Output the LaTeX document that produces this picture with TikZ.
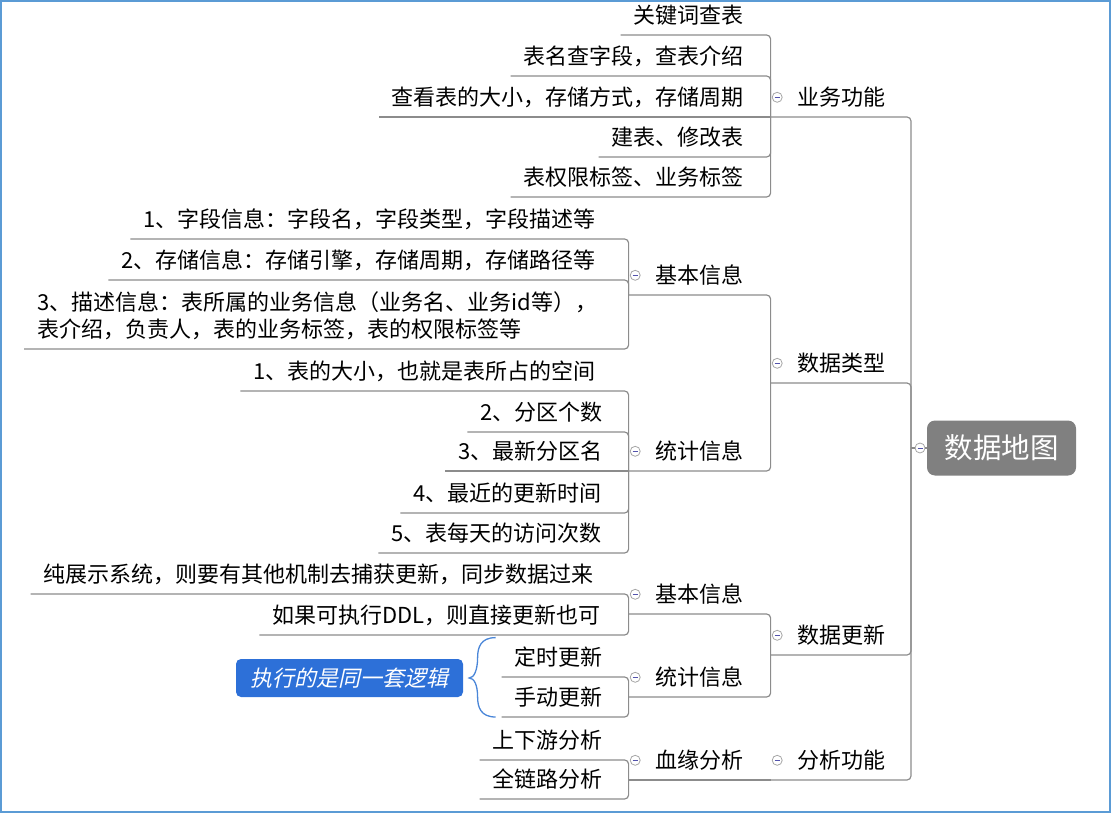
\documentclass[tikz,border=0pt]{standalone}
\usepackage{fontspec}
\newfontfamily\cjk{Noto Sans CJK SC}
\newfontfamily\cjkit[FakeSlant=0.22]{Noto Sans CJK SC}
\usetikzlibrary{positioning}
\definecolor{linegray}{RGB}{140,140,140}
\definecolor{rootgray}{RGB}{128,128,128}
\definecolor{noteblue}{RGB}{45,112,216}
\definecolor{braceblue}{RGB}{74,134,216}
\definecolor{frameblue}{RGB}{91,155,213}
\tikzset{x=1pt, y=-1pt, node distance=2pt,
  topic/.style={font=\cjk\fontsize{22}{27}\selectfont, text height=19pt, text depth=3pt,
    inner xsep=13pt, inner ysep=8.5pt, anchor=south east},
  root/.style={font=\cjk\fontsize{28.5}{34}\selectfont, fill=rootgray, text=white,
    rounded corners=8pt, minimum width=149pt, minimum height=55pt},
  note/.style={font=\cjkit\fontsize{22}{27}\selectfont, fill=noteblue, text=white,
    rounded corners=5pt, minimum width=227pt, minimum height=38pt},
  fold/.style={circle, draw=gray!70, fill=white, line width=0.8pt, minimum size=10pt, inner sep=0pt,
    path picture={\draw[blue!35!gray, line width=0.8pt]
      ([xshift=-2.5pt]path picture bounding box.center) -- ([xshift=2.5pt]path picture bounding box.center);}},
  link/.style={draw=linegray, line width=1.2pt, rounded corners=4pt},
  sumline/.style={draw=braceblue, line width=1.3pt}}

\begin{document}
\begin{tikzpicture}
  \useasboundingbox (0,0) rectangle (1111,813);
  \draw[frameblue, line width=1.5pt] (1,1) rectangle (1110,812);

  \node[root] (R) at (1001.5,448) {数据地图};
  \node[fold] (fR) at (920,448) {};
  \coordinate (jR) at (911,448);

  \node[topic] (A) at (899,117) {业务功能};
  \node[topic] (B) at (899,383) {数据类型};
  \node[topic] (C) at (899,655) {数据更新};
  \node[topic] (D) at (899,780) {分析功能};

  \node[topic] (A1) at (757,35) {关键词查表};
  \node[topic] (A2) at (757,76) {表名查字段，查表介绍};
  \node[topic] (A3) at (757,117) {查看表的大小，存储方式，存储周期};
  \node[topic] (A4) at (757,157) {建表、修改表};
  \node[topic] (A5) at (757,197) {表权限标签、业务标签};
  \node[topic] (B1) at (757,295) {基本信息};
  \node[topic] (B2) at (757,471) {统计信息};
  \node[topic] (C1) at (757,614) {基本信息};
  \node[topic] (C2) at (757,697) {统计信息};
  \node[topic] (D1) at (757,780) {血缘分析};

  \node[topic] (B11) at (609,239) {1、字段信息：字段名，字段类型，字段描述等};
  \node[topic] (B12) at (609,280) {2、存储信息：存储引擎，存储周期，存储路径等};
  \node[topic, anchor=south west, align=left, text height=46pt, text depth=3pt] (B13) at (24,349)
    {3、描述信息：表所属的业务信息（业务名、业务id等），\\表介绍，负责人，表的业务标签，表的权限标签等};
  \node[topic] (B21) at (609,391) {1、表的大小，也就是表所占的空间};
  \node[topic] (B22) at (616,432) {2、分区个数};
  \node[topic] (B23) at (616,471) {3、最新分区名};
  \node[topic] (B24) at (615,513) {4、最近的更新时间};
  \node[topic] (B25) at (615,553) {5、表每天的访问次数};
  \node[topic] (C11) at (607,594) {纯展示系统，则要有其他机制去捕获更新，同步数据过来};
  \node[topic] (C12) at (614,635) {如果可执行DDL，则直接更新也可};
  \node[topic] (C21) at (616,677) {定时更新};
  \node[topic] (C22) at (616,717) {手动更新};
  \node[topic] (D11) at (616,760) {上下游分析};
  \node[topic] (D12) at (616,799) {全链路分析};

  \node[note] (N) at (349.5,678) {执行的是同一套逻辑};

  \foreach \n in {A,B,C,D,B1,B2,C1,C2,D1} {
    \node[fold] (f\n) [left=of \n] {};
    \coordinate (j\n) at ([xshift=-14pt]\n.south west);
  }

  \draw[link] (jR) -- (fR);
  \draw[link] (fR) -- (R);
  \foreach \n in {A,B,C,D} \draw[link] (jR) |- (j\n);
  \foreach \n in {A1,A2,A4,A5} \draw[link] (jA) |- (\n.south west);
  \draw[link] (jA) -- (A3.south west);
  \foreach \n in {B1,B2} \draw[link] (jB) |- (j\n);
  \foreach \n in {B11,B12,B13} \draw[link] (jB1) |- (\n.south west);
  \foreach \n in {B21,B22,B24,B25} \draw[link] (jB2) |- (\n.south west);
  \draw[link] (jB2) -- (B23.south west);
  \foreach \n in {C1,C2} \draw[link] (jC) |- (j\n);
  \foreach \n in {C11,C12} \draw[link] (jC1) |- (\n.south west);
  \foreach \n in {C21,C22} \draw[link] (jC2) |- (\n.south west);
  \draw[link] (jD) -- (jD1);
  \foreach \n in {D11,D12} \draw[link] (jD1) |- (\n.south west);

  % summary brace
  \coordinate (bt) at ([xshift=-6pt]C21.north west);
  \coordinate (bb) at ([xshift=-6pt]C22.south west);
  \coordinate (bu) at ([shift={(-18,20)}]bt);
  \coordinate (bd) at ([shift={(-18,-20)}]bb);
  \coordinate (bm) at ([xshift=6pt]N.east);
  \draw[sumline] (bt) .. controls +(-15,0) and +(0,-10) .. (bu)
    .. controls +(0,12) and +(5,0) .. (bm)
    .. controls +(5,0) and +(0,-12) .. (bd)
    .. controls +(0,10) and +(-15,0) .. (bb);
\end{tikzpicture}
\end{document}
